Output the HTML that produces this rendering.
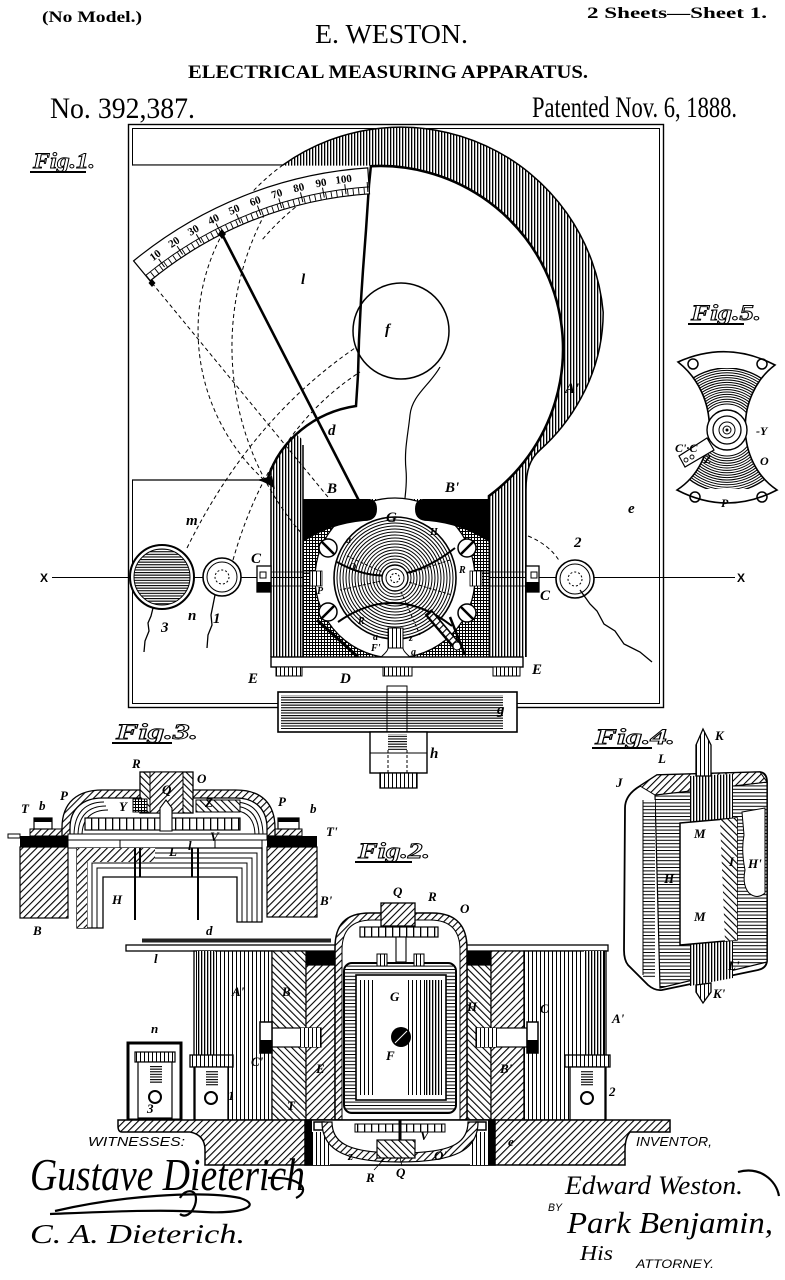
<!DOCTYPE html>
<html><head><meta charset="utf-8"><title>E. Weston — Electrical Measuring Apparatus</title>
<style>html,body{margin:0;padding:0;background:#fff}svg{display:block}</style></head>
<body>
<svg xmlns="http://www.w3.org/2000/svg" width="785" height="1280" viewBox="0 0 785 1280">
<defs>
<pattern id="vl" width="3" height="4" patternUnits="userSpaceOnUse"><rect width="3" height="4" fill="#fff"/><rect width="1.3" height="4" fill="#000"/></pattern>
<pattern id="vl2" width="4" height="4" patternUnits="userSpaceOnUse"><rect width="4" height="4" fill="#fff"/><rect width="1" height="4" fill="#000"/></pattern>
<pattern id="hl" width="4" height="2.6" patternUnits="userSpaceOnUse"><rect width="4" height="2.6" fill="#fff"/><rect width="4" height="1.1" fill="#000"/></pattern>
<pattern id="hl2" width="4" height="3.4" patternUnits="userSpaceOnUse"><rect width="4" height="3.4" fill="#fff"/><rect width="4" height="1" fill="#000"/></pattern>
<pattern id="d1" width="5" height="5" patternUnits="userSpaceOnUse" patternTransform="rotate(45)"><rect width="5" height="5" fill="#fff"/><rect width="1.1" height="5" fill="#000"/></pattern>
<pattern id="d2" width="5" height="5" patternUnits="userSpaceOnUse" patternTransform="rotate(-45)"><rect width="5" height="5" fill="#fff"/><rect width="1.1" height="5" fill="#000"/></pattern>
<pattern id="xh" width="3" height="3" patternUnits="userSpaceOnUse"><rect width="3" height="3" fill="#fff"/><rect width="3" height="1" fill="#000"/><rect width="1" height="3" fill="#000"/></pattern>
<pattern id="teeth" width="7" height="10" patternUnits="userSpaceOnUse"><rect width="7" height="10" fill="#fff"/><rect width="1.3" height="10" fill="#000"/></pattern>
<clipPath id="c5"><path d="M678,362 Q727,340 775,365 C735,395 735,462 777,490 Q727,516 677,490 C720,462 720,395 678,362 Z"/></clipPath>
<clipPath id="c5b"><rect x="660" y="368" width="130" height="121"/></clipPath>
</defs>
<rect width="785" height="1280" fill="#fff"/>

<!-- HEADER -->
<g font-family="'Liberation Serif',serif" fill="#000">
<text x="42" y="22" font-size="16" font-weight="bold" textLength="100" lengthAdjust="spacingAndGlyphs">(No Model.)</text>
<text x="587" y="18" font-size="16" font-weight="bold" textLength="180" lengthAdjust="spacingAndGlyphs">2 Sheets—Sheet 1.</text>
<text x="315" y="43" font-size="27" textLength="153" lengthAdjust="spacingAndGlyphs">E. WESTON.</text>
<text x="188" y="78" font-size="19" font-weight="bold" textLength="400" lengthAdjust="spacingAndGlyphs">ELECTRICAL MEASURING APPARATUS.</text>
<text x="50" y="118" font-size="30" textLength="145" lengthAdjust="spacingAndGlyphs">No. 392,387.</text>
<text x="532" y="117" font-size="30" textLength="205" lengthAdjust="spacingAndGlyphs">Patented Nov. 6, 1888.</text>
</g>

<!-- FIG LABELS -->
<g font-family="'Liberation Serif',serif" font-style="italic" font-weight="bold" fill="none" stroke="#000" stroke-width="0.9">
<text x="33" y="168" font-size="22" textLength="62" lengthAdjust="spacingAndGlyphs">Fig.1.</text>
<text x="691" y="320" font-size="22" textLength="70" lengthAdjust="spacingAndGlyphs">Fig.5.</text>
<text x="116" y="739" font-size="22" textLength="82" lengthAdjust="spacingAndGlyphs">Fig.3.</text>
<text x="595" y="744" font-size="22" textLength="80" lengthAdjust="spacingAndGlyphs">Fig.4.</text>
<text x="358" y="858" font-size="22" textLength="72" lengthAdjust="spacingAndGlyphs">Fig.2.</text>
</g>
<g stroke="#000" stroke-width="2">
<line x1="30" y1="172" x2="86" y2="172"/><line x1="688" y1="324" x2="744" y2="324"/>
<line x1="112" y1="743" x2="172" y2="743"/><line x1="592" y1="748" x2="652" y2="748"/>
<line x1="355" y1="862" x2="412" y2="862"/>
</g>

<!-- FIG 1 FRAME -->
<rect x="128.5" y="124.5" width="535" height="583" fill="none" stroke="#000" stroke-width="1.4"/>
<rect x="132.5" y="128.5" width="527" height="575" fill="none" stroke="#000" stroke-width="1"/>
<line x1="132" y1="165" x2="371" y2="165" stroke="#000" stroke-width="1.2"/>

<!-- MAGNET -->
<path d="M271,657 L271,440 L198,330 A203,203 0 0 1 603.2,312.3 C603,380 565,428 540,450 C530,459 526,470 526,490 L526,657 Z M303,657 L303,440 L197,349 A183,183 0 1 1 489,496 L489,657 Z" fill="url(#vl)" fill-rule="evenodd"/>
<path d="M283,165 A203,203 0 0 1 603.2,312.3 C603,380 565,428 540,450 C530,459 526,470 526,490 L526,657" fill="none" stroke="#000" stroke-width="1.5"/>
<path d="M371,166.2 A183,183 0 0 1 489,496 L489,657" fill="none" stroke="#000" stroke-width="2.6"/>
<line x1="271" y1="460" x2="271" y2="657" stroke="#000" stroke-width="1.5"/>
<line x1="303" y1="445" x2="303" y2="657" stroke="#000" stroke-width="1.5"/>

<!-- X line -->
<line x1="52" y1="577.5" x2="735" y2="577.5" stroke="#000" stroke-width="1"/>
<g font-family="'Liberation Sans',sans-serif" font-weight="bold" font-size="12"><text x="40" y="582">X</text><text x="737" y="582">X</text></g>

<!-- PLATE l -->
<path d="M132,165.6 L371,165.6 L369,185 L366,230 L363,270 L361,300 L359,340 L358,375 L356,406 C315,412 280,440 268,478 L132,480 Z" fill="#fff"/>
<path d="M371,165 L369,185 L366,230 L363,270 L361,300 L359,340 L358,375 L356,406 C315,412 280,440 268,478" fill="none" stroke="#000" stroke-width="2.5"/>
<line x1="132" y1="480" x2="268" y2="480" stroke="#000" stroke-width="1.3"/>
<path d="M257,480 L272,476 L275,489 Q266,482 257,480 Z" fill="#000"/>

<!-- dashed lines -->
<g fill="none" stroke="#000" stroke-width="1" stroke-dasharray="4 3">
<path d="M283,165 A203,203 0 0 0 271,486"/>
<path d="M268,208 A285,285 0 0 0 303,535"/>
<path d="M152,283 L360,536"/>
<path d="M187,548 Q250,420 355,348"/>
<path d="M233,560 Q270,430 360,372"/>
<path d="M528,536 Q550,545 560,562"/>
<path d="M350,176 Q300,195 262,240"/>
</g>

<!-- SCALE -->
<path d="M133.6,260.9 A411,411 0 0 1 367.8,167.9 L369.5,193.8 A385,385 0 0 0 150.1,280.9 Z" fill="#fff" stroke="#000" stroke-width="1.2"/>
<path d="M145.6,275.5 A392,392 0 0 1 369,186.9" fill="none" stroke="#000" stroke-width="1"/>
<path d="M147.9,278.2 A388.5,388.5 0 0 1 369.2,190.4" fill="none" stroke="#000" stroke-width="6" stroke-dasharray="0.9 4.6"/>
<path d="M145.6,275.5 A392,392 0 0 1 369,186.9" fill="none" stroke="#000" stroke-width="10" stroke-dasharray="1 21.24" stroke-dashoffset="2.4"/>
<g font-family="'Liberation Serif',serif" font-weight="bold" font-size="11" text-anchor="middle">
<text transform="translate(155.3,255.3) rotate(-36.6)" y="3.5">10</text>
<text transform="translate(174,242.2) rotate(-33.35)" y="3.5">20</text>
<text transform="translate(193.4,230.2) rotate(-30.1)" y="3.5">30</text>
<text transform="translate(213.5,219.3) rotate(-26.85)" y="3.5">40</text>
<text transform="translate(234.1,209.6) rotate(-23.6)" y="3.5">50</text>
<text transform="translate(255.2,201.1) rotate(-20.35)" y="3.5">60</text>
<text transform="translate(276.8,193.8) rotate(-17.1)" y="3.5">70</text>
<text transform="translate(298.8,187.7) rotate(-13.85)" y="3.5">80</text>
<text transform="translate(321,182.9) rotate(-10.6)" y="3.5">90</text>
<text transform="translate(343.6,179.3) rotate(-7.35)" y="3.5">100</text>
</g>
<polygon points="152,279 155.5,283 152,287 148.5,283" fill="#000"/>
<line x1="222" y1="234" x2="392" y2="565" stroke="#000" stroke-width="2.6"/>
<polygon points="222,229 226,234 222,239 218,234" fill="#000"/>

<!-- f -->
<circle cx="401" cy="331" r="48" fill="none" stroke="#000" stroke-width="1.5"/>
<path d="M440,367 C430,385 412,395 410,415 C408,435 404,450 406,470 C408,490 402,505 405,520 C407,530 404,535 404,540" fill="none" stroke="#000" stroke-width="1.2"/>

<!-- CENTRAL MECHANISM -->
<rect x="303.5" y="499" width="185" height="158" fill="url(#xh)"/>
<circle cx="395" cy="578" r="80" fill="#fff" stroke="#000" stroke-width="1.3"/>
<path d="M303,499 L368,499 Q377,499 377,509 Q377,521 364,521 Q330,524 303,542 Z" fill="#000"/>
<path d="M489,499 L424,499 Q415,499 415,509 Q415,521 428,521 Q462,524 489,542 Z" fill="#000"/>
<path d="M312,610 L352,657 L330,657 L305,628 Z" fill="url(#xh)"/>
<path d="M478,610 L440,657 L462,657 L489,628 Z" fill="url(#xh)"/>
<g fill="none" stroke="#000" stroke-width="1">
<circle cx="395" cy="578" r="61" stroke-width="1.6" fill="#fff"/>
<circle cx="395" cy="578" r="58"/><circle cx="395" cy="578" r="55"/><circle cx="395" cy="578" r="52"/>
<circle cx="395" cy="578" r="49"/><circle cx="395" cy="578" r="46"/><circle cx="395" cy="578" r="43"/>
<circle cx="395" cy="578" r="40"/><circle cx="395" cy="578" r="37"/><circle cx="395" cy="578" r="34"/>
<circle cx="395" cy="578" r="31"/><circle cx="395" cy="578" r="28"/><circle cx="395" cy="578" r="25"/>
<circle cx="395" cy="578" r="22"/><circle cx="395" cy="578" r="19"/><circle cx="395" cy="578" r="16"/>
</g>
<g fill="none" stroke="#000" stroke-width="2">
<path d="M337,562 Q395,595 455,548"/>
<path d="M338,622 Q395,582 452,626"/>
</g>
<g fill="none" stroke="#000" stroke-width="1" stroke-dasharray="3 2">
<line x1="395" y1="578" x2="345" y2="555"/><line x1="395" y1="578" x2="340" y2="590"/>
<line x1="395" y1="578" x2="450" y2="560"/><line x1="395" y1="578" x2="452" y2="595"/>
<line x1="395" y1="578" x2="420" y2="635"/>
</g>
<circle cx="395" cy="578" r="13" fill="#fff" stroke="#000" stroke-width="1.4"/>
<circle cx="395" cy="578" r="9" fill="none" stroke="#000" stroke-width="1"/>
<circle cx="395" cy="578" r="4.5" fill="none" stroke="#000" stroke-width="1" stroke-dasharray="2 1.5"/>
<g stroke="#000" stroke-width="1.5" fill="#fff">
<circle cx="328" cy="548" r="9"/><circle cx="328" cy="612" r="9"/>
<circle cx="467" cy="548" r="9"/><circle cx="467" cy="613" r="9"/>
</g>
<g stroke="#000" stroke-width="2.5">
<line x1="322" y1="542" x2="334" y2="554"/><line x1="322" y1="618" x2="334" y2="606"/>
<line x1="461" y1="554" x2="473" y2="542"/><line x1="461" y1="607" x2="473" y2="619"/>
</g>
<line x1="317" y1="620" x2="358" y2="657" stroke="#000" stroke-width="3"/>
<line x1="428" y1="612" x2="456" y2="645" stroke="#000" stroke-width="9"/>
<line x1="430" y1="614" x2="455" y2="643" stroke="url(#d1)" stroke-width="5"/>
<circle cx="457" cy="646" r="4" fill="#fff" stroke="#000" stroke-width="1"/>
<line x1="450" y1="617" x2="465" y2="655" stroke="#000" stroke-width="2.5"/>
<rect x="388" y="628" width="15" height="22" fill="url(#vl2)" stroke="#000" stroke-width="1"/>
<path d="M381,657 Q388,651 388,648 L403,648 Q403,651 410,657 Z" fill="#fff" stroke="#000" stroke-width="1"/>
<rect x="310" y="571" width="12" height="15" fill="url(#vl2)" stroke="#000" stroke-width="0.8"/>
<rect x="470" y="571" width="12" height="15" fill="url(#vl2)" stroke="#000" stroke-width="0.8"/>
<g stroke="#000" stroke-width="0.8"><line x1="271" y1="572" x2="310" y2="572"/><line x1="271" y1="586" x2="310" y2="586"/><line x1="482" y1="572" x2="526" y2="572"/><line x1="482" y1="586" x2="526" y2="586"/></g>
<!-- C screws -->
<rect x="257" y="566" width="14" height="26" fill="#fff" stroke="#000" stroke-width="1.3"/>
<rect x="257" y="582" width="14" height="10" fill="#000"/>
<rect x="260" y="572" width="6" height="6" fill="none" stroke="#000" stroke-width="1"/>
<rect x="526" y="566" width="13" height="26" fill="#fff" stroke="#000" stroke-width="1.3"/>
<rect x="526" y="582" width="13" height="10" fill="#000"/>
<rect x="531" y="572" width="6" height="6" fill="none" stroke="#000" stroke-width="1"/>

<!-- base D, feet -->
<rect x="271" y="657" width="252" height="10" fill="#fff" stroke="#000" stroke-width="1.4"/>
<rect x="276" y="667" width="26" height="9" fill="url(#vl2)" stroke="#000" stroke-width="1"/>
<rect x="383" y="667" width="29" height="9" fill="url(#vl2)" stroke="#000" stroke-width="1"/>
<rect x="493" y="667" width="27" height="9" fill="url(#vl2)" stroke="#000" stroke-width="1"/>

<!-- g & h -->
<rect x="278" y="692" width="239" height="40" fill="#fff" stroke="#000" stroke-width="1.6"/>
<rect x="281" y="695" width="222" height="34" fill="url(#hl)"/>
<rect x="387" y="686" width="20" height="46" fill="none" stroke="#000" stroke-width="1"/>
<rect x="370" y="732" width="57" height="41" fill="#fff" stroke="#000" stroke-width="1.4"/>
<line x1="370" y1="753" x2="427" y2="753" stroke="#000" stroke-width="1"/>
<rect x="388" y="734" width="19" height="16" fill="url(#hl)"/>
<g stroke="#000" stroke-width="1" stroke-dasharray="3 2"><line x1="388" y1="750" x2="388" y2="773"/><line x1="407" y1="750" x2="407" y2="773"/></g>
<rect x="380" y="773" width="37" height="15" fill="url(#vl2)" stroke="#000" stroke-width="1.3"/>

<!-- terminals -->
<circle cx="162" cy="577" r="32" fill="#fff" stroke="#000" stroke-width="2"/>
<circle cx="162" cy="577" r="28" fill="url(#hl)" stroke="#000" stroke-width="1"/>
<circle cx="222" cy="577" r="19" fill="#fff" stroke="#000" stroke-width="1.6"/>
<circle cx="222" cy="577" r="15" fill="none" stroke="#000" stroke-width="1"/>
<circle cx="222" cy="577" r="7" fill="none" stroke="#000" stroke-width="1" stroke-dasharray="2 2"/>
<circle cx="575" cy="579" r="19" fill="#fff" stroke="#000" stroke-width="1.6"/>
<circle cx="575" cy="579" r="15" fill="none" stroke="#000" stroke-width="1"/>
<circle cx="575" cy="579" r="7" fill="none" stroke="#000" stroke-width="1" stroke-dasharray="2 2"/>
<g fill="none" stroke="#000" stroke-width="1.3">
<path d="M153,608 L151,616 L148,623 L149,631 L145,641 L144,652"/>
<path d="M215,595 L213,605 L211,615 L212,625 L208,635 L207,648"/>
<path d="M580,590 L590,604 L597,611 L604,624 L615,631 L624,644 L640,652 L652,662"/>
</g>

<!-- FIG 1 LABELS -->
<g font-family="'Liberation Serif',serif" font-style="italic" font-weight="bold" font-size="15" fill="#000">
<text x="301" y="284">l</text><text x="385" y="334">f</text><text x="328" y="435">d</text>
<text x="186" y="525">m</text><text x="188" y="620">n</text><text x="161" y="632">3</text><text x="213" y="623">1</text>
<text x="251" y="563">C</text><text x="540" y="600">C</text><text x="574" y="547">2</text><text x="628" y="513">e</text>
<text x="565" y="393">A'</text><text x="327" y="493">B</text><text x="445" y="492">B'</text><text x="386" y="522">G</text>
<text x="248" y="683">E</text><text x="340" y="683">D</text><text x="532" y="674">E</text>
<text x="497" y="714">g</text><text x="430" y="758">h</text>
</g>
<g font-family="'Liberation Serif',serif" font-style="italic" font-weight="bold" font-size="10" fill="#000">
<text x="346" y="543">a</text><text x="349" y="570">O</text><text x="317" y="594">P</text><text x="358" y="624">R</text>
<text x="373" y="640">a</text><text x="371" y="651">F'</text><text x="409" y="641">z</text><text x="411" y="655">a</text>
<text x="430" y="535">H</text><text x="459" y="573">R</text>
</g>

<!-- FIG 5 -->
<path d="M678,362 Q727,340 775,365 C735,395 735,462 777,490 Q727,516 677,490 C720,462 720,395 678,362 Z" fill="#fff" stroke="#000" stroke-width="1.6"/>
<g clip-path="url(#c5b)"><g clip-path="url(#c5)" fill="none" stroke="#000" stroke-width="1">
<circle cx="727" cy="430" r="26"/><circle cx="727" cy="430" r="28.4"/><circle cx="727" cy="430" r="30.8"/>
<circle cx="727" cy="430" r="33.2"/><circle cx="727" cy="430" r="35.6"/><circle cx="727" cy="430" r="38"/>
<circle cx="727" cy="430" r="40.4"/><circle cx="727" cy="430" r="42.8"/><circle cx="727" cy="430" r="45.2"/>
<circle cx="727" cy="430" r="47.6"/><circle cx="727" cy="430" r="50"/><circle cx="727" cy="430" r="52.4"/>
<circle cx="727" cy="430" r="54.8"/><circle cx="727" cy="430" r="57.2"/><circle cx="727" cy="430" r="59.6"/>
<circle cx="727" cy="430" r="62" stroke-width="1.4"/>
</g></g>
<g fill="none" stroke="#000" stroke-width="1.5">
<circle cx="693" cy="364" r="5"/><circle cx="762" cy="364" r="5"/><circle cx="695" cy="497" r="5"/><circle cx="762" cy="497" r="5"/>
</g>
<circle cx="727" cy="430" r="20" fill="#fff" stroke="#000" stroke-width="1.4"/>
<path d="M707,438 L714,450 L685,467 L679,456 Z" fill="#fff" stroke="#000" stroke-width="1.2"/>
<circle cx="727" cy="430" r="14" fill="#fff" stroke="#000" stroke-width="1.3"/>
<circle cx="727" cy="430" r="8" fill="none" stroke="#000" stroke-width="1"/>
<circle cx="727" cy="430" r="4" fill="none" stroke="#000" stroke-width="1"/>
<circle cx="727" cy="430" r="1.5" fill="#000"/>
<circle cx="686" cy="460" r="2" fill="none" stroke="#000" stroke-width="0.9"/>
<circle cx="692" cy="457" r="2" fill="none" stroke="#000" stroke-width="0.9"/>
<g font-family="'Liberation Serif',serif" font-style="italic" font-weight="bold" font-size="12" fill="#000">
<text x="675" y="452">C'·C</text><text x="704" y="463">Z</text><text x="756" y="435">-Y</text>
<text x="760" y="465">O</text><text x="721" y="507">P</text>
</g>

<!-- FIG 4 -->
<path d="M625,808 Q625,795 640,786 L657,775 L760,772 Q767,773 767,782 L767,960 Q767,968 758,970 L662,990 Q655,991 648,985 L628,965 Q624,960 624,950 Z" fill="#fff" stroke="#000" stroke-width="1.8"/>
<path d="M655,795 L767,782 L767,962 L660,988 Z" fill="url(#hl2)" stroke="#000" stroke-width="1.2"/>
<path d="M640,786 L657,775 L760,772 L767,782 L655,795 Z" fill="url(#d1)" stroke="#000" stroke-width="1"/>
<rect x="643" y="800" width="12" height="178" fill="url(#hl2)"/>
<line x1="643" y1="800" x2="643" y2="975" stroke="#000" stroke-width="1"/>
<path d="M690,776 L733,774 L733,820 L690,824 Z" fill="url(#vl)"/>
<path d="M690,943 L733,938 L733,978 L690,986 Z" fill="url(#vl)"/>
<path d="M680,823 L737,818 L737,940 L680,945 Z" fill="#fff" stroke="#000" stroke-width="1.5"/>
<path d="M720,820 L737,818 L737,940 L725,941 Z" fill="url(#d2)"/>
<path d="M742,812 L765,808 L765,893 Q757,900 749,893 Q742,885 745,870 Q741,850 744,835 Z" fill="#fff" stroke="#000" stroke-width="1"/>
<path d="M703,729 L711,745 L711,776 L696,776 L696,745 Z" fill="url(#vl2)" stroke="#000" stroke-width="1.3"/>
<path d="M696,985 L711,983 L711,992 L703,1003 L696,992 Z" fill="url(#vl2)" stroke="#000" stroke-width="1.3"/>
<g font-family="'Liberation Serif',serif" font-style="italic" font-weight="bold" font-size="13" fill="#000">
<text x="715" y="740">K</text><text x="658" y="763">L</text><text x="616" y="787">J</text>
<text x="694" y="838">M</text><text x="729" y="866">I</text><text x="748" y="868">H'</text>
<text x="664" y="883">H</text><text x="694" y="921">M</text><text x="728" y="970">L'</text><text x="713" y="998">K'</text>
</g>

<!-- FIG 3 -->
<rect x="20" y="847" width="48" height="71" fill="url(#d1)" stroke="#000" stroke-width="1.2"/>
<rect x="267" y="847" width="50" height="70" fill="url(#d1)" stroke="#000" stroke-width="1.2"/>
<rect x="20" y="836" width="48" height="11" fill="#000"/>
<rect x="267" y="836" width="50" height="11" fill="#000"/>
<rect x="30" y="829" width="38" height="7" fill="url(#d1)" stroke="#000" stroke-width="1"/>
<rect x="267" y="829" width="35" height="7" fill="url(#d1)" stroke="#000" stroke-width="1"/>
<rect x="34" y="818" width="18" height="11" fill="#fff" stroke="#000" stroke-width="1.2"/>
<rect x="34" y="818" width="18" height="4" fill="#000"/>
<rect x="278" y="818" width="21" height="11" fill="#fff" stroke="#000" stroke-width="1.2"/>
<rect x="278" y="818" width="21" height="4" fill="#000"/>
<rect x="8" y="834" width="12" height="4" fill="#fff" stroke="#000" stroke-width="1"/>
<path d="M62,836 L62,828 C62,802 78,790 102,790 L236,790 C262,790 275,804 275,828 L275,836 L267,836 L267,828 C267,810 256,798 236,798 L102,798 C84,798 70,808 70,828 L70,836 Z" fill="url(#d1)" stroke="#000" stroke-width="1.3"/>
<g fill="none" stroke="#000" stroke-width="1">
<path d="M74,836 C74,812 86,802 104,802"/><path d="M78,836 C78,815 89,806 106,806"/><path d="M82,836 C82,818 92,810 108,810"/>
<path d="M263,836 C263,812 252,802 234,802"/><path d="M259,836 C259,815 249,806 232,806"/><path d="M255,836 C255,818 246,810 230,810"/>
</g>
<rect x="85" y="818" width="155" height="12" fill="url(#teeth)" stroke="#000" stroke-width="1.2"/>
<rect x="140" y="772" width="53" height="41" fill="url(#d2)" stroke="#000" stroke-width="1.3"/>
<rect x="150" y="772" width="33" height="41" fill="url(#d1)" stroke="#000" stroke-width="1"/>
<rect x="133" y="799" width="14" height="13" fill="url(#xh)" stroke="#000" stroke-width="1"/>
<rect x="196" y="800" width="44" height="12" fill="url(#d2)" stroke="#000" stroke-width="1"/>
<path d="M160,831 L160,808 L166,800 L172,808 L172,831 Z" fill="#fff" stroke="#000" stroke-width="1.1"/>
<rect x="68" y="834" width="199" height="6" fill="#fff" stroke="#000" stroke-width="1"/>
<rect x="68" y="840" width="52" height="8" fill="#fff" stroke="#000" stroke-width="1"/>
<rect x="215" y="840" width="47" height="8" fill="#fff" stroke="#000" stroke-width="1"/>
<path d="M77,928 L77,848 L262,848 L262,922 L237,922 L237,877 L103,877 L103,928 Z" fill="#fff" stroke="#000" stroke-width="1.3"/>
<g fill="none" stroke="#000" stroke-width="1">
<path d="M82,928 L82,853 L257,853 L257,922"/><path d="M87,928 L87,858 L252,858 L252,922"/>
<path d="M92,928 L92,863 L247,863 L247,922"/><path d="M97,928 L97,868 L242,868 L242,922"/>
</g>
<rect x="77" y="848" width="78" height="14" fill="url(#d1)"/>
<rect x="77" y="848" width="10" height="80" fill="url(#d1)"/>
<g stroke="#000" stroke-width="2"><line x1="135" y1="848" x2="135" y2="920"/><line x1="198" y1="848" x2="198" y2="920"/><line x1="140" y1="848" x2="140" y2="877"/><line x1="192" y1="848" x2="192" y2="877"/></g>
<g font-family="'Liberation Serif',serif" font-style="italic" font-weight="bold" font-size="13" fill="#000">
<text x="132" y="768">R</text><text x="197" y="783">O</text><text x="162" y="794">Q</text><text x="119" y="811">Y</text>
<text x="205" y="807">Z</text><text x="21" y="813">T</text><text x="39" y="810">b</text><text x="60" y="800">P</text>
<text x="278" y="806">P</text><text x="310" y="813">b</text><text x="326" y="836">T'</text><text x="188" y="850">l</text>
<text x="210" y="841">V</text><text x="169" y="856">L</text><text x="112" y="904">H</text><text x="320" y="905">B'</text>
<text x="33" y="935">B</text>
</g>

<!-- FIG 2 -->
<rect x="142" y="938.5" width="189" height="4" fill="#222"/>
<rect x="126" y="945" width="482" height="6" fill="#fff" stroke="#000" stroke-width="1.3"/>
<rect x="194" y="951" width="78" height="169" fill="url(#vl2)" stroke="#000" stroke-width="1.3"/>
<rect x="197" y="951" width="18" height="169" fill="url(#vl)"/>
<rect x="272" y="951" width="34" height="169" fill="url(#d2)" stroke="#000" stroke-width="1.2"/>
<rect x="306" y="965" width="29" height="155" fill="url(#d1)" stroke="#000" stroke-width="1.2"/>
<rect x="306" y="951" width="29" height="14" fill="#000"/>
<rect x="467" y="965" width="24" height="155" fill="url(#d2)" stroke="#000" stroke-width="1.2"/>
<rect x="491" y="951" width="33" height="169" fill="url(#d1)" stroke="#000" stroke-width="1.2"/>
<rect x="467" y="951" width="24" height="14" fill="#000"/>
<rect x="524" y="951" width="82" height="169" fill="url(#vl2)" stroke="#000" stroke-width="1.3"/>
<rect x="584" y="951" width="20" height="169" fill="url(#vl)"/>
<path d="M335,1120 L335,948 C335,925 345,913 370,913 L432,913 C458,913 467,928 467,948 L467,1120 Z" fill="url(#d1)" stroke="#000" stroke-width="1.5"/>
<path d="M342,1120 L342,950 C342,930 352,920 372,920 L430,920 C452,920 460,932 460,950 L460,1120 Z" fill="#fff" stroke="#000" stroke-width="1"/>
<rect x="344" y="963" width="112" height="150" rx="8" fill="url(#hl2)" stroke="#000" stroke-width="2"/>
<rect x="356" y="975" width="90" height="125" fill="#fff" stroke="#000" stroke-width="1.6"/>
<rect x="360" y="980" width="14" height="115" fill="url(#vl2)"/>
<rect x="406" y="980" width="36" height="115" fill="url(#vl2)"/>
<rect x="425" y="980" width="17" height="115" fill="url(#vl)"/>
<circle cx="401" cy="1037" r="10" fill="#000"/>
<line x1="395" y1="1043" x2="407" y2="1031" stroke="#fff" stroke-width="1"/>
<rect x="381" y="903" width="34" height="23" fill="url(#d1)" stroke="#000" stroke-width="1.3"/>
<rect x="360" y="927" width="78" height="10" fill="url(#teeth)" stroke="#000" stroke-width="1.2"/>
<rect x="396" y="937" width="10" height="25" fill="#fff" stroke="#000" stroke-width="1.1"/>
<rect x="377" y="954" width="10" height="12" fill="url(#vl2)" stroke="#000" stroke-width="1"/>
<rect x="414" y="954" width="10" height="12" fill="url(#vl2)" stroke="#000" stroke-width="1"/>
<!-- C screws fig 2 -->
<rect x="272" y="1028" width="49" height="19" fill="#fff" stroke="#000" stroke-width="1.2"/>
<rect x="300" y="1028" width="21" height="19" fill="url(#vl2)"/>
<rect x="260" y="1022" width="12" height="31" fill="#fff" stroke="#000" stroke-width="1.5"/>
<rect x="260" y="1040" width="12" height="13" fill="#000"/>
<rect x="476" y="1028" width="51" height="19" fill="#fff" stroke="#000" stroke-width="1.2"/>
<rect x="476" y="1028" width="21" height="19" fill="url(#vl2)"/>
<rect x="527" y="1022" width="11" height="31" fill="#fff" stroke="#000" stroke-width="1.5"/>
<rect x="527" y="1040" width="11" height="13" fill="#000"/>
<!-- terminals fig 2 -->
<rect x="128" y="1043" width="53" height="77" fill="#fff" stroke="#000" stroke-width="3"/>
<rect x="135" y="1052" width="40" height="10" fill="url(#vl2)" stroke="#000" stroke-width="1.2"/>
<rect x="138" y="1062" width="34" height="56" fill="#fff" stroke="#000" stroke-width="1.2"/>
<rect x="150" y="1066" width="12" height="18" fill="url(#hl)"/>
<circle cx="155" cy="1097" r="6" fill="none" stroke="#000" stroke-width="2"/>
<rect x="190" y="1055" width="43" height="12" fill="url(#vl2)" stroke="#000" stroke-width="1.3"/>
<rect x="195" y="1067" width="33" height="53" fill="#fff" stroke="#000" stroke-width="1.3"/>
<rect x="206" y="1070" width="12" height="16" fill="url(#hl)"/>
<circle cx="211" cy="1098" r="6" fill="none" stroke="#000" stroke-width="2"/>
<rect x="565" y="1055" width="45" height="12" fill="url(#vl2)" stroke="#000" stroke-width="1.3"/>
<rect x="570" y="1067" width="35" height="53" fill="#fff" stroke="#000" stroke-width="1.3"/>
<rect x="581" y="1070" width="12" height="16" fill="url(#hl)"/>
<circle cx="587" cy="1098" r="6" fill="none" stroke="#000" stroke-width="2"/>
<!-- base e -->
<path d="M118,1120 L670,1120 L670,1132 L630,1132 Q625,1138 625,1150 L625,1165 L205,1165 L205,1150 Q205,1135 190,1132 L122,1132 Q118,1132 118,1126 Z" fill="url(#d1)" stroke="#000" stroke-width="1.5"/>
<rect x="305" y="1120" width="190" height="45" fill="#fff" stroke="#000" stroke-width="1.5"/>
<rect x="305" y="1120" width="7" height="45" fill="#000"/>
<rect x="488" y="1120" width="7" height="45" fill="#000"/>
<rect x="312" y="1132" width="18" height="33" fill="url(#vl2)"/>
<rect x="470" y="1132" width="18" height="33" fill="url(#vl2)"/>
<rect x="314" y="1122" width="10" height="8" fill="#fff" stroke="#000" stroke-width="1.5"/>
<rect x="476" y="1122" width="10" height="8" fill="#fff" stroke="#000" stroke-width="1.5"/>
<path d="M322,1122 C322,1150 345,1162 400,1162 C455,1162 478,1150 478,1122 L468,1122 C468,1144 450,1153 400,1153 C350,1153 332,1144 332,1122 Z" fill="url(#d1)" stroke="#000" stroke-width="1.2"/>
<rect x="355" y="1124" width="90" height="8" fill="url(#teeth)" stroke="#000" stroke-width="1"/>
<rect x="377" y="1140" width="38" height="18" fill="url(#d2)" stroke="#000" stroke-width="1.2"/>
<line x1="400" y1="1120" x2="400" y2="1140" stroke="#000" stroke-width="3"/>
<g stroke="#000" stroke-width="0.8"><line x1="374" y1="1170" x2="385" y2="1158"/><line x1="402" y1="1166" x2="400" y2="1158"/></g>
<g font-family="'Liberation Serif',serif" font-style="italic" font-weight="bold" font-size="13" fill="#000">
<text x="393" y="896">Q</text><text x="428" y="901">R</text><text x="460" y="913">O</text>
<text x="206" y="935">d</text><text x="154" y="963">l</text><text x="232" y="996">A'</text><text x="282" y="996">B</text>
<text x="390" y="1001">G</text><text x="467" y="1011">H</text><text x="540" y="1013">C</text><text x="612" y="1023">A'</text>
<text x="151" y="1033">n</text><text x="251" y="1066">C'</text><text x="316" y="1073">E</text><text x="386" y="1060">F</text>
<text x="500" y="1073">B'</text><text x="609" y="1096">2</text><text x="228" y="1100">1</text><text x="147" y="1113">3</text>
<text x="287" y="1110">T</text><text x="508" y="1146">e</text><text x="348" y="1160">z</text><text x="434" y="1160">O'</text>
<text x="366" y="1182">R</text><text x="396" y="1177">Q</text><text x="420" y="1140">V</text>
</g>

<!-- SIGNATURES -->
<g font-family="'Liberation Sans',sans-serif" fill="#000" font-size="13">
<text x="88" y="1146" textLength="97" lengthAdjust="spacingAndGlyphs" font-style="italic">WITNESSES:</text>
<text x="636" y="1146" textLength="76" lengthAdjust="spacingAndGlyphs" font-style="italic">INVENTOR,</text>
<text x="548" y="1211" font-size="11" textLength="14" lengthAdjust="spacingAndGlyphs" font-style="italic">BY</text>
<text x="636" y="1268" font-size="12" textLength="78" lengthAdjust="spacingAndGlyphs" font-style="italic">ATTORNEY.</text>
</g>
<g font-family="'Liberation Serif',serif" font-style="italic" fill="#000">
<text x="30" y="1190" font-size="46" textLength="275" lengthAdjust="spacingAndGlyphs">Gustave Dieterich</text>
<text x="30" y="1243" font-size="27" textLength="215" lengthAdjust="spacingAndGlyphs">C. A. Dieterich.</text>
<text x="565" y="1194" font-size="26" textLength="178" lengthAdjust="spacingAndGlyphs">Edward Weston.</text>
<text x="567" y="1233" font-size="31" textLength="206" lengthAdjust="spacingAndGlyphs">Park Benjamin,</text>
<text x="580" y="1260" font-size="21" textLength="33" lengthAdjust="spacingAndGlyphs">His</text>
</g>
<g fill="none" stroke="#000" stroke-width="2.2">
<path d="M55,1211 C120,1196 200,1190 240,1198 C262,1205 245,1214 205,1212 C160,1209 100,1212 50,1214"/>
<path d="M180,1198 C185,1188 200,1188 195,1205 C192,1214 185,1218 180,1214"/>
<path d="M268,1178 C300,1176 312,1190 296,1198"/>
<path d="M738,1172 C760,1166 776,1180 779,1196"/>
</g>
</svg>
</body></html>
